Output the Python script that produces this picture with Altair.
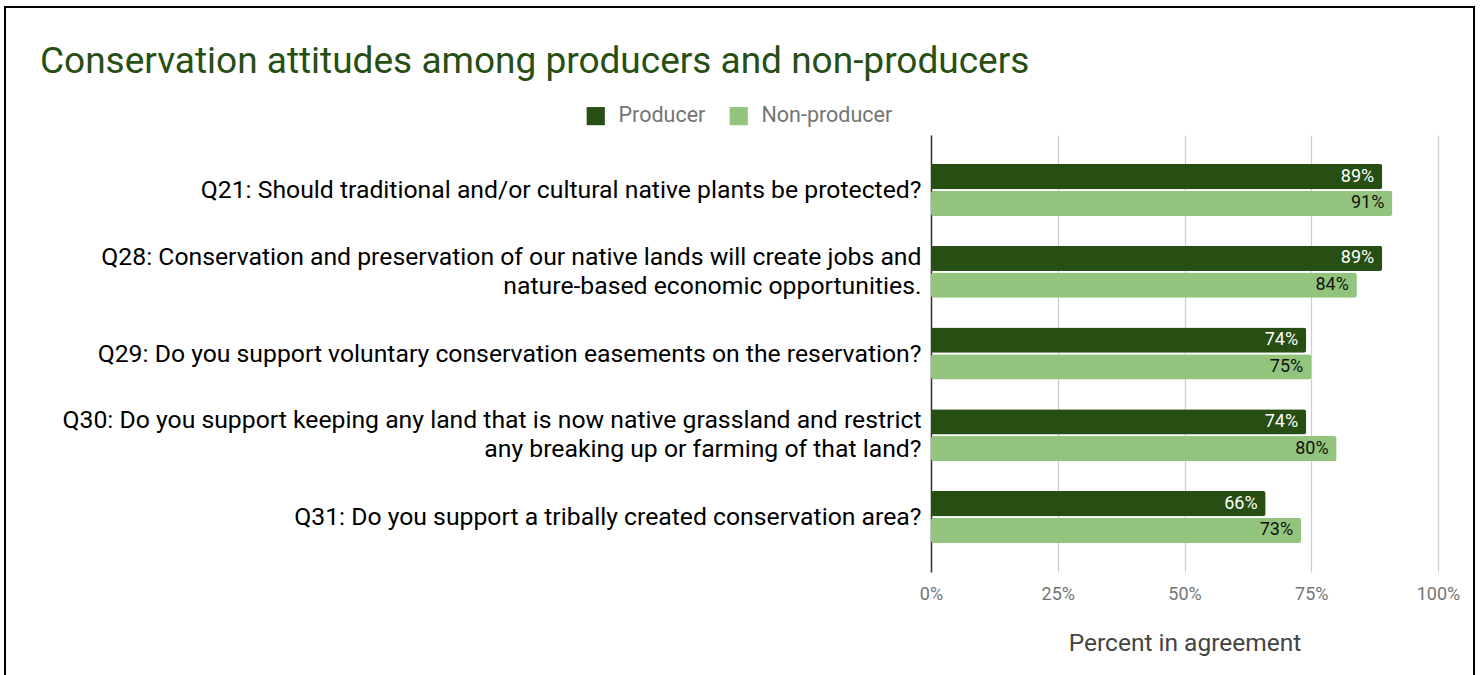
import altair as alt
import pandas as pd

title_text = "Conservation attitudes among producers and non-producers"
questions = [
    "Q21: Should traditional and/or cultural native plants be protected?",
    "Q28: Conservation and preservation of our native lands will create jobs and|nature-based economic opportunities.",
    "Q29: Do you support voluntary conservation easements on the reservation?",
    "Q30: Do you support keeping any land that is now native grassland and restrict|any breaking up or farming of that land?\u00a0",
    "Q31: Do you support a tribally created conservation area?",
]
series = ["Producer", "Non-producer"]
producer = [89, 89, 74, 74, 66]
non_producer = [91, 84, 75, 80, 73]
x_ticks = [0, 25, 50, 75, 100]

rows = []
for q, p, n in zip(questions, producer, non_producer):
    rows.append({"question": q, "series": "Producer", "value": p, "label": f"{p}%"})
    rows.append({"question": q, "series": "Non-producer", "value": n, "label": f"{n}%"})
df = pd.DataFrame(rows)

FONT = "Roboto"
colors = ["#274e13", "#93c47d"]

y_enc = alt.Y(
    "question:N",
    sort=questions,
    scale=alt.Scale(paddingInner=0.364, paddingOuter=0.354),
    axis=alt.Axis(
        title=None,
        labelExpr="split(datum.label, '|')",
        labelFontSize=24.75,
        labelColor="#000000",
        labelFont=FONT,
        labelLimit=1000,
        labelLineHeight=29,
        labelPadding=10,
        labelOffset={"condition": {"test": "indexof(datum.label, '|') >= 0", "value": -14}, "value": 1},
        ticks=False,
        domain=True,
        domainColor="#333333",
        domainWidth=1.5,
        grid=False,
    ),
)
yoff = alt.YOffset("series:N", sort=series, scale=alt.Scale(paddingInner=0.06))
x_enc = alt.X(
    "value:Q",
    scale=alt.Scale(domain=[0, 100]),
    axis=alt.Axis(
        values=x_ticks,
        labelExpr="datum.value + '%'",
        labelFlush=False,
        title="Percent in agreement",
        titleFontSize=24.5,
        titleFontWeight="normal",
        titleColor="#444444",
        titleFont=FONT,
        titlePadding=28,
        labelFontSize=18,
        labelColor="#757575",
        labelFont=FONT,
        labelPadding=13,
        ticks=False,
        domain=False,
        grid=True,
        gridColor="#cccccc",
        gridWidth=1.2,
    ),
)

bars = alt.Chart(df).mark_bar(cornerRadius=2.5).encode(
    x=x_enc,
    y=y_enc,
    yOffset=yoff,
    color=alt.Color(
        "series:N",
        sort=series,
        scale=alt.Scale(domain=series, range=colors),
        legend=alt.Legend(
            title=None,
            orient="none",
            legendX=-346,
            legendY=-30,
            direction="horizontal",
            symbolType="square",
            symbolSize=330,
            symbolStrokeWidth=0,
            labelFontSize=21.5,
            labelColor="#757575",
            labelFont=FONT,
            columnPadding=22,
            labelOffset=12,
        ),
    ),
)

texts = alt.Chart(df).mark_text(align="right", dx=-8, fontSize=18, font=FONT, baseline="middle").encode(
    x="value:Q",
    y=alt.Y("question:N", sort=questions),
    yOffset=alt.YOffset("series:N", sort=series),
    text="label:N",
    color=alt.condition(alt.datum.series == "Producer", alt.value("#ffffff"), alt.value("#111111")),
)

single = alt.Data(values=[{"a": 1}])
title_mark = alt.Chart(single).mark_text(
    align="left", baseline="alphabetic", fontSize=37, font=FONT, color="#274e13"
).encode(x=alt.value(-891), y=alt.value(-62), text=alt.value(title_text))

border_left = alt.Chart(single).mark_rule(color="#000000", strokeWidth=2).encode(
    x=alt.value(-926), y=alt.value(-128), y2=alt.value(560)
)
border_right = alt.Chart(single).mark_rule(color="#000000", strokeWidth=2).encode(
    x=alt.value(543), y=alt.value(-128), y2=alt.value(560)
)
border_top = alt.Chart(single).mark_rule(color="#000000", strokeWidth=2).encode(
    x=alt.value(-927), x2=alt.value(544), y=alt.value(-128)
)

chart = alt.layer(bars, texts, title_mark, border_left, border_right, border_top).properties(
    width=507,
    height=437,
    autosize=alt.AutoSizeParams(type="none"),
    padding={"left": 931, "top": 135, "right": 43, "bottom": 103},
    background="#ffffff",
).configure_view(strokeWidth=0, stroke="transparent")

chart.save("out.html", embed_options={"renderer": "svg", "actions": False})
